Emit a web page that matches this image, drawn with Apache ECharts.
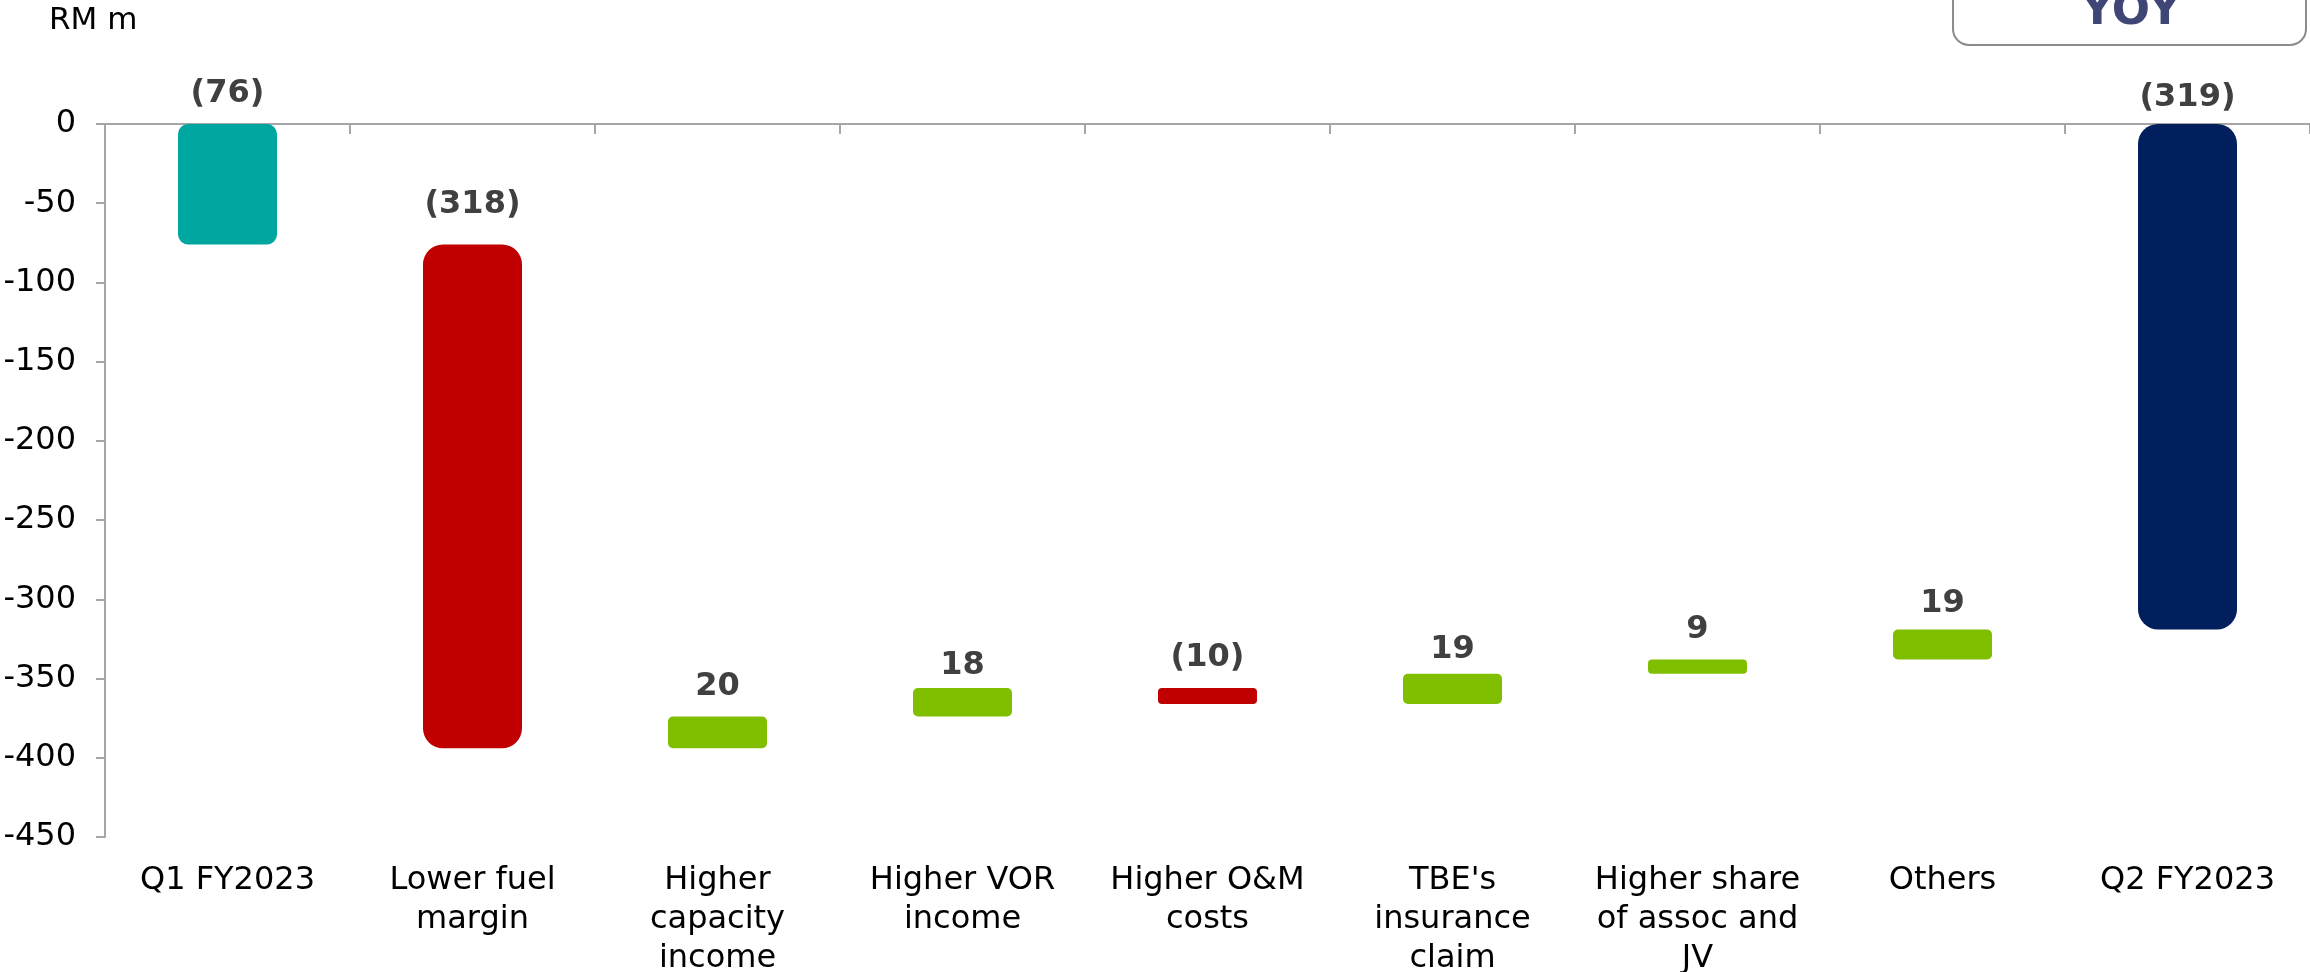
<!DOCTYPE html>
<html>
<head>
<meta charset="utf-8">
<title>Waterfall RM m</title>
<script src="https://cdn.jsdelivr.net/npm/echarts@6/dist/echarts.min.js"></script>
<style>
  html, body { margin: 0; padding: 0; background: #fff; }
  #chart { width: 2310px; height: 972px; }
</style>
</head>
<body>
<div id="chart"></div>
<script>
// categories (x axis labels, with the picture's own line breaks)
const categories = [
  'Q1 FY2023',
  'Lower fuel\nmargin',
  'Higher\ncapacity\nincome',
  'Higher VOR\nincome',
  'Higher O&M\ncosts',
  "TBE's\ninsurance\nclaim",
  'Higher share\nof assoc and\nJV',
  'Others',
  'Q2 FY2023'
];
// first and last are totals, the rest are changes
const changes = [-76, -318, 20, 18, -10, 19, 9, 19, -319];
const isTotal = [true, false, false, false, false, false, false, false, true];
const yTicks = { min: -450, max: 0, interval: 50 };

// styling per bar, kept apart from the values
const barColors = ['#00A6A0', '#C00000', '#80BE00', '#80BE00', '#C00000', '#80BE00', '#80BE00', '#80BE00', '#001F5C'];
const barRadius = [10, 20, 5, 5, 4, 5, 4, 5, 20];
const labelGap = [14, 24, 14, 6, 14, 8, 14, 10, 10];

// waterfall: transparent base (top of each bar) + visible length stacked under it
const baseData = [];
const barData = [];
let running = 0;
changes.forEach((v, i) => {
  const style = { color: barColors[i], borderRadius: barRadius[i] };
  if (isTotal[i]) {
    baseData.push(0);
    barData.push({ value: v, itemStyle: style, label: { distance: labelGap[i] } });
    running = v;
  } else {
    const end = running + v;
    baseData.push(Math.max(running, end));
    barData.push({ value: -Math.abs(v), itemStyle: style, label: { distance: labelGap[i] } });
    running = end;
  }
});

const fmt = v => (v < 0 ? '(' + Math.abs(v) + ')' : String(v));

const chart = echarts.init(document.getElementById('chart'));
const option = {
  animation: false,
  textStyle: { fontFamily: 'DejaVu Sans' },
  grid: { left: 105, right: 0, top: 124, bottom: 135, outerBoundsMode: 'none', containLabel: false },
  xAxis: [
    {
      type: 'category',
      data: categories,
      position: 'bottom',
      axisLine: { show: false, onZero: false },
      axisTick: { show: false },
      axisLabel: {
        interval: 0,
        color: '#000',
        fontSize: 32,
        lineHeight: 39,
        margin: 24,
        fontFamily: 'DejaVu Sans'
      }
    },
    {
      type: 'category',
      data: categories,
      position: 'top',
      axisLine: { show: true, onZero: false, lineStyle: { color: '#A6A6A6', width: 2 } },
      axisTick: { show: true, inside: true, length: 10, lineStyle: { color: '#A6A6A6', width: 2 } },
      axisLabel: { show: false }
    }
  ],
  yAxis: {
    type: 'value',
    min: yTicks.min,
    max: yTicks.max,
    interval: yTicks.interval,
    splitLine: { show: false },
    axisLine: { show: true, lineStyle: { color: '#A6A6A6', width: 2 } },
    axisTick: { show: true, length: 9, lineStyle: { color: '#A6A6A6', width: 2 } },
    axisLabel: { color: '#000', fontSize: 32, margin: 29, fontFamily: 'DejaVu Sans' }
  },
  graphic: [
    {
      type: 'text',
      x: 49,
      y: 21,
      style: {
        text: 'RM m',
        fill: '#000',
        font: '31px "DejaVu Sans"',
        align: 'left',
        verticalAlign: 'middle'
      }
    },
    {
      type: 'rect',
      shape: { x: 1953, y: -40, width: 353, height: 85, r: 16 },
      style: { fill: '#fff', stroke: '#8C8C8C', lineWidth: 2 },
      z: 10
    },
    {
      type: 'text',
      x: 2131,
      y: 35,
      style: {
        text: 'YOY',
        fill: '#3F4575',
        font: 'bold 45px "DejaVu Sans"',
        align: 'center',
        verticalAlign: 'bottom'
      },
      z: 11
    }
  ],
  series: [
    {
      name: 'base',
      type: 'bar',
      stack: 'wf',
      barWidth: 99,
      xAxisIndex: 0,
      itemStyle: { color: 'transparent' },
      emphasis: { disabled: true },
      data: baseData
    },
    {
      name: 'change',
      type: 'bar',
      stack: 'wf',
      barWidth: 99,
      xAxisIndex: 0,
      label: {
        show: true,
        position: 'top',
        distance: 14,
        color: '#404040',
        fontSize: 32,
        fontWeight: 'bold',
        fontFamily: 'DejaVu Sans',
        formatter: p => fmt(changes[p.dataIndex])
      },
      data: barData
    }
  ]
};
chart.setOption(option);
</script>
</body>
</html>
